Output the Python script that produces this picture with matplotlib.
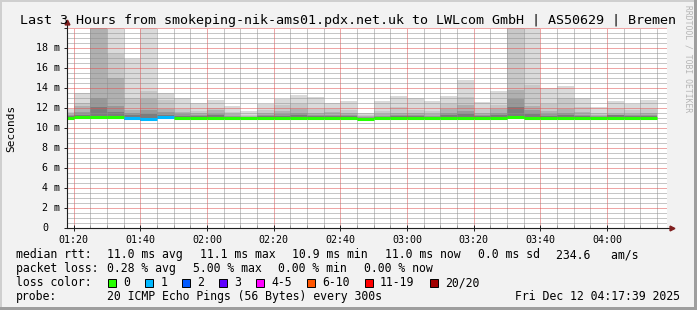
import numpy as np
import matplotlib
matplotlib.use("Agg")
import matplotlib.pyplot as plt
import matplotlib.transforms as mtransforms
from matplotlib.patches import Rectangle

plt.rcParams['font.family'] = ['DejaVu Sans Mono']

# rrd steps are 5 min, value is stored at the end of the step
step_end = ["01:20", "01:25", "01:30", "01:35", "01:40", "01:45", "01:50", "01:55",
            "02:00", "02:05", "02:10", "02:15", "02:20", "02:25", "02:30", "02:35",
            "02:40", "02:45", "02:50", "02:55", "03:00", "03:05", "03:10", "03:15",
            "03:20", "03:25", "03:30", "03:35", "03:40", "03:45", "03:50", "03:55",
            "04:00", "04:05", "04:10", "04:15"]

# smoke bands, outer (light) to inner (dark), ms
smoke_1 = [11.9, 13.5, 20.0, 20.0, 16.9, 20.0, 13.5, 13.0, 12.5, 12.8, 12.2, 11.7,
           12.4, 12.9, 13.3, 13.1, 12.5, 12.7, 11.5, 12.7, 13.2, 13.0, 12.7, 13.2,
           14.8, 12.6, 13.7, 20.0, 20.0, 14.0, 14.2, 13.0, 12.1, 12.7, 12.4, 12.8]
smoke_2 = [11.6, 12.5, 20.0, 17.4, 13.0, 13.7, 12.8, 11.9, 11.7, 12.0, 11.6, 11.3,
           11.8, 12.3, 12.4, 11.9, 11.9, 11.8, 11.3, 11.7, 12.1, 11.8, 11.7, 12.4,
           13.1, 11.9, 12.3, 20.0, 14.3, 12.4, 13.0, 12.1, 11.5, 11.9, 11.8, 11.9]
smoke_3 = [11.4, 12.2, 20.0, 15.0, 11.8, 12.9, 11.9, 11.6, 11.5, 11.8, 11.4, 11.2,
           11.5, 11.7, 11.9, 11.5, 11.6, 11.5, 11.2, 11.4, 11.5, 11.5, 11.4, 11.9,
           12.3, 11.5, 11.9, 13.8, 12.2, 11.7, 11.9, 11.6, 11.3, 11.4, 11.4, 11.5]
smoke_4 = [11.3, 11.6, 13.0, 12.2, 11.5, 11.8, 11.6, 11.4, 11.3, 11.4, 11.2, 11.1,
           11.3, 11.4, 11.5, 11.3, 11.3, 11.3, 11.1, 11.2, 11.3, 11.3, 11.2, 11.5,
           11.7, 11.3, 11.5, 12.9, 11.8, 11.4, 11.5, 11.3, 11.2, 11.3, 11.3, 11.3]
smoke_5 = [11.2, 11.3, 12.1, 11.6, 11.3, 11.4, 11.3, 11.2, 11.2, 11.3, 11.1, 11.1,
           11.2, 11.2, 11.3, 11.2, 11.2, 11.2, 11.0, 11.1, 11.2, 11.2, 11.1, 11.3,
           11.4, 11.2, 11.3, 12.1, 11.4, 11.2, 11.3, 11.2, 11.1, 11.3, 11.2, 11.2]
ping_min = [10.9, 10.9, 10.9, 10.9, 10.8, 10.7, 10.9, 10.9, 10.9, 10.9, 10.9, 10.9,
            10.9, 10.9, 10.9, 10.9, 10.9, 10.9, 10.8, 10.9, 10.9, 10.9, 10.9, 10.9,
            10.9, 10.9, 10.9, 10.9, 10.9, 10.9, 10.9, 10.9, 10.9, 10.9, 10.9, 10.9]
median = [11.0, 11.1, 11.1, 11.1, 11.0, 10.9, 11.1, 11.0, 11.0, 11.0, 11.0, 11.0,
          11.0, 11.0, 11.0, 11.0, 11.0, 11.0, 10.9, 11.0, 11.0, 11.0, 11.0, 11.0,
          11.0, 11.0, 11.05, 11.1, 11.0, 11.0, 11.0, 11.0, 11.0, 11.0, 11.0, 11.0]
loss = [0, 0, 0, 0, 1, 1, 1, 0, 0, 0, 0, 0, 0, 0, 0, 0, 0, 0,
        0, 0, 0, 0, 0, 0, 0, 0, 0, 0, 0, 0, 0, 0, 0, 0, 0, 0]

loss_labels = ["0", "1", "2", "3", "4-5", "6-10", "11-19", "20/20"]
loss_upper = [0, 1, 2, 3, 5, 10, 19, 20]
loss_colors = ["#26ff00", "#00b8ff", "#0059ff", "#5e00ff", "#ff00ff",
               "#ff5500", "#ff0000", "#a10000"]

yticks = [0, 2, 4, 6, 8, 10, 12, 14, 16, 18]
xticks = ["01:20", "01:40", "02:00", "02:20", "02:40", "03:00", "03:20", "03:40", "04:00"]
t_start, t_end = "01:18", "04:18"

title = "Last 3 Hours from smokeping-nik-ams01.pdx.net.uk to LWLcom GmbH | AS50629 | Bremen"
rtt_stats = ["11.0 ms avg", "11.1 ms max", "10.9 ms min", "11.0 ms now", "0.0 ms sd", "234.6   am/s"]
loss_stats = ["0.28 % avg", "5.00 % max", "0.00 % min", "0.00 % now"]
probe_txt = "20 ICMP Echo Pings (56 Bytes) every 300s"
stamp = "Fri Dec 12 04:17:39 2025"


def mins(s):
    h, m = s.split(":")
    return int(h) * 60 + int(m)


W, H, DPI = 697, 310, 100
fx = lambda px: px / W
fy = lambda py: 1 - py / H

fig = plt.figure(figsize=(W / DPI, H / DPI), dpi=DPI, facecolor='#f2f2f2')
# 3d-ish frame like rrdtool
fig.add_artist(Rectangle((0, fy(2)), 1, 2 / H, transform=fig.transFigure, color='#cfcfcf', lw=0))
fig.add_artist(Rectangle((0, 0), 2 / W, 1, transform=fig.transFigure, color='#cfcfcf', lw=0))
fig.add_artist(Rectangle((0, 0), 1, 3 / H, transform=fig.transFigure, color='#9e9e9e', lw=0))
fig.add_artist(Rectangle((1 - 3 / W, 0), 3 / W, 1, transform=fig.transFigure, color='#9e9e9e', lw=0))

ax = fig.add_axes([fx(67), fy(228), 600 / W, 200 / H])
ax.set_facecolor('white')

ends = np.array([mins(t) for t in step_end])
lo = np.array(ping_min)
shades = ['#dadada', '#c8c8c8', '#b0b0b0', '#989898', '#7c7c7c']
for lev, col in zip([smoke_1, smoke_2, smoke_3, smoke_4, smoke_5], shades):
    ax.bar(ends, np.array(lev) - lo, bottom=lo, width=-5, align='edge',
           color=col, linewidth=0, zorder=1)


def loss_color(n):
    for up, c in zip(loss_upper, loss_colors):
        if n <= up:
            return c


ax.hlines(median, ends - 5, ends, colors=[loss_color(n) for n in loss],
          linewidth=2.2, zorder=3)

ax.set_xlim(mins(t_start), mins(t_end))
ax.set_ylim(0, 20)
xmaj = [mins(t) for t in xticks]
ax.set_xticks(xmaj)
ax.set_xticklabels(xticks)
ax.set_xticks([m for m in range(mins("01:20"), mins(t_end), 5) if m not in xmaj], minor=True)
ax.set_yticks(yticks + [20])
ax.set_yticklabels([])
ax.set_yticks([v for v in np.arange(0, 20, 0.5) if v % 2 != 0], minor=True)

# rrdtool paints the (semi transparent) grid over the graph
ax.set_axisbelow(False)
ax.grid(which='minor', color=(0.56, 0.56, 0.56, 0.25), linestyle=(0, (1, 1)), linewidth=0.72)
ax.grid(which='major', color=(0.87, 0.31, 0.31, 0.22), linestyle=(0, (1, 1)), linewidth=0.72)

for s in ax.spines.values():
    s.set_visible(False)
ax.plot([0, 1.006], [0, 0], color='#1f1f1f', lw=0.8, transform=ax.transAxes, clip_on=False, zorder=4)
ax.plot([0, 0], [0, 1.03], color='#1f1f1f', lw=0.8, transform=ax.transAxes, clip_on=False, zorder=4)
ax.plot([1.008], [0], marker='>', ms=3.5, color='#801f1f', transform=ax.transAxes, clip_on=False, zorder=5)
ax.plot([0], [1.032], marker='^', ms=3.5, color='#801f1f', transform=ax.transAxes, clip_on=False, zorder=5)

ax.tick_params(axis='x', which='major', direction='inout', length=4, width=0.7,
               color='#1f1f1f', labelsize=7.2, pad=3)
ax.tick_params(axis='x', which='minor', direction='in', length=2, width=0.7, color='#999999')
ax.tick_params(axis='y', which='major', direction='out', length=2, width=0.7, color='#1f1f1f')
ax.tick_params(axis='y', which='minor', length=0)

# y labels like rrdtool ("0" keeps room for the unit)
for v in yticks:
    off = -19 if v == 0 else -7
    tr = mtransforms.offset_copy(ax.get_yaxis_transform(), fig, x=off, y=0, units='dots')
    ax.text(0, v, "0" if v == 0 else f"{v} m", transform=tr, ha='right', va='center',
            fontsize=7.2)

fig.text(0.5, fy(24), title, ha='center', va='baseline', fontsize=9.6)
fig.text(fx(11), fy(128), "Seconds", rotation=90, ha='center', va='center', fontsize=8)
fig.text(fx(688), fy(5), "RRDTOOL / TOBI OETIKER", rotation=-90, ha='center', va='top',
         fontsize=5.8, color='#b5b5b5')

cw = 6.96
lsize = 8.3
col2 = 107.3
gap = 16

fig.text(fx(16), fy(258), "median rtt:", fontsize=lsize, va='baseline')
x = col2
for s in rtt_stats:
    fig.text(fx(x), fy(258), s, fontsize=lsize, va='baseline')
    x += len(s) * cw + gap

fig.text(fx(16), fy(272), "packet loss:", fontsize=lsize, va='baseline')
x = col2
for s in loss_stats:
    fig.text(fx(x), fy(272), s, fontsize=lsize, va='baseline')
    x += len(s) * cw + gap

fig.text(fx(16), fy(286), "loss color:", fontsize=lsize, va='baseline')
x = col2 + 1
for lab, c in zip(loss_labels, loss_colors):
    fig.add_artist(Rectangle((fx(x), fy(287)), 8 / W, 8 / H, transform=fig.transFigure,
                             facecolor=c, edgecolor='black', lw=0.7))
    fig.text(fx(x + 15), fy(286), lab, fontsize=lsize, va='baseline')
    x += 15 + len(lab) * cw + 15

fig.text(fx(16), fy(300), "probe:", fontsize=lsize, va='baseline')
fig.text(fx(col2), fy(300), probe_txt, fontsize=lsize, va='baseline')
fig.text(fx(680), fy(300), stamp, fontsize=lsize, va='baseline', ha='right')

fig.savefig("out.png", dpi=DPI, facecolor=fig.get_facecolor())
